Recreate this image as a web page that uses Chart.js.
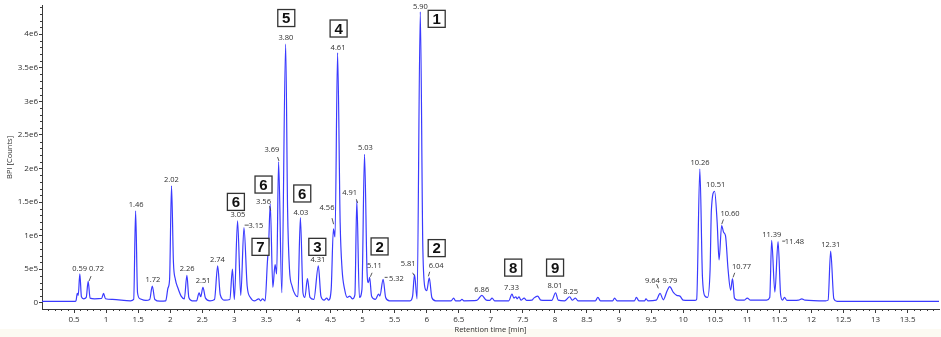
<!DOCTYPE html>
<html>
<head>
<meta charset="utf-8">
<script src="https://cdn.jsdelivr.net/npm/chart.js@4/dist/chart.umd.min.js"></script>
<style>
	html, body { margin: 0; padding: 0; background: #fff; }
	#wrap { width: 941px; height: 337px; position: relative; }
</style>
</head>
<body>
<div id="wrap"><canvas id="bpiChart"></canvas></div>
<script>
// BPI CHROMATOGRAM

// trace (retention time in min, BPI counts)
const retentionTime = [
	0.00, 0.50, 0.53, 0.55, 0.565, 0.59, 0.615, 0.65, 0.69, 0.72, 0.75, 0.82, 0.93, 0.96, 0.99, 1.10,
	1.38, 1.43, 1.46, 1.49, 1.53, 1.62, 1.68, 1.72, 1.76, 1.84, 1.93, 1.965, 1.99, 2.02, 2.05, 2.08,
	2.12, 2.17, 2.22, 2.26, 2.29, 2.34, 2.41, 2.45, 2.475, 2.51, 2.55, 2.62, 2.69, 2.74, 2.78, 2.85,
	2.93, 2.97, 3.00, 3.05, 3.10, 3.15, 3.20, 3.25, 3.32, 3.38, 3.41, 3.44, 3.48, 3.515, 3.535, 3.56,
	3.60, 3.635, 3.66, 3.69, 3.74, 3.80, 3.83, 3.86, 3.90, 3.95, 3.99, 4.03, 4.07, 4.10, 4.14, 4.18,
	4.24, 4.31, 4.35, 4.40, 4.44, 4.47, 4.51, 4.545, 4.57, 4.61, 4.65, 4.68, 4.72, 4.76, 4.80, 4.84,
	4.88, 4.91, 4.95, 4.99, 5.03, 5.07, 5.09, 5.11, 5.14, 5.20, 5.25, 5.27, 5.32, 5.36, 5.42, 5.74,
	5.78, 5.81, 5.85, 5.90, 5.94, 5.98, 6.00, 6.04, 6.08, 6.14, 6.38, 6.42, 6.45, 6.52, 6.55, 6.58,
	6.78, 6.86, 6.93, 6.98, 7.02, 7.06, 7.28, 7.33, 7.36, 7.39, 7.41, 7.44, 7.47, 7.52, 7.56, 7.64,
	7.67, 7.73, 7.78, 7.95, 8.01, 8.05, 8.15, 8.23, 8.27, 8.32, 8.36, 8.63, 8.67, 8.71, 8.90, 8.93,
	8.97, 9.24, 9.27, 9.31, 9.40, 9.42, 9.45, 9.58, 9.64, 9.69, 9.75, 9.79, 9.85, 9.90, 9.95, 10.00,
	10.18, 10.21, 10.26, 10.30, 10.34, 10.38, 10.42, 10.44, 10.49, 10.53, 10.56, 10.60, 10.63, 10.66, 10.70, 10.74,
	10.77, 10.80, 10.85, 10.95, 11.00, 11.05, 11.30, 11.35, 11.38, 11.43, 11.48, 11.52, 11.55, 11.58, 11.62, 11.80,
	11.85, 11.90, 12.22, 12.26, 12.30, 12.35, 12.40, 13.99
];
const bpiCounts = [
	2e4, 2e4, 3e4, 1.4e5, 1.1e5, 4.3e5, 9e4, 6e4, 8e4, 3.2e5, 7e4, 6e4, 6.5e4, 1.4e5, 6e4, 5e4,
	3e4, 5e4, 1.37e6, 1.5e5, 6e4, 3.5e4, 5e4, 2.5e5, 5e4, 2.5e4, 3e4, 2.2e5, 3.5e5, 1.74e6, 6e5, 3.5e5,
	2.2e5, 1e5, 6e4, 4.1e5, 8e4, 3e4, 3e4, 1.5e5, 9e4, 2.3e5, 7e4, 3e4, 5e4, 5.5e5, 1.2e5, 4e4,
	5e4, 5e5, 5e4, 1.22e6, 1.1e5, 1.12e6, 2.5e5, 8e4, 3e4, 6e4, 3e4, 6e4, 3e4, 6e5, 8.8e5, 1.47e6,
	2.3e5, 5.7e5, 4.3e5, 2.1e6, 1.5e5, 3.85e6, 1.4e6, 5e5, 2.5e5, 1.2e5, 9e4, 1.27e6, 1.5e5, 8e4, 3.6e5, 8e4,
	5e4, 5.5e5, 1e5, 4e4, 7e4, 4e4, 2e5, 1.1e6, 9.8e5, 3.72e6, 1.2e6, 5e5, 2e5, 8e4, 1e5, 6e4,
	1.2e5, 1.52e6, 8e4, 2e5, 2.21e6, 4.5e5, 3e5, 3.8e5, 1e5, 5e4, 1.3e5, 1e5, 3.5e5, 8e4, 3e4, 3e4,
	1e5, 4.2e5, 6e4, 4.33e6, 8e5, 2e5, 1.8e5, 3.7e5, 8e4, 3e4, 3e4, 7e4, 3e4, 3e4, 5e4, 3e4,
	3.5e4, 1.1e5, 4e4, 3.5e4, 7e4, 3e4, 3e4, 1.3e5, 7e4, 9e4, 6e4, 9e4, 4e4, 7e4, 3.5e4, 4e4,
	7e4, 1e5, 4e4, 3.5e4, 1.5e5, 4e4, 3e4, 9e4, 4e4, 7e4, 3e4, 3e4, 8e4, 3e4, 3e4, 7e4,
	3e4, 3e4, 8e4, 3e4, 3e4, 6e4, 3e4, 4e4, 1.4e5, 4.5e4, 1.8e5, 2.4e5, 1.5e5, 1.1e5, 1e5, 4e4,
	3.5e4, 5e4, 1.99e6, 4e5, 1e5, 8e4, 5e5, 1.38e6, 1.66e6, 1.2e6, 6.4e5, 1.15e6, 1.05e6, 1.0e6, 5e5, 1.9e5,
	3.6e5, 7e4, 4e4, 4e4, 7e4, 4e4, 4e4, 8e4, 9.3e5, 1.6e5, 9.1e5, 1.2e5, 4e4, 8e4, 3.5e4, 4e4,
	6e4, 4e4, 3e4, 4e4, 7.7e5, 6e4, 2e4, 2e4
];

// axis ticks
const xTickValues = [0.5, 1, 1.5, 2, 2.5, 3, 3.5, 4, 4.5, 5, 5.5, 6, 6.5, 7, 7.5, 8, 8.5, 9, 9.5, 10, 10.5, 11, 11.5, 12, 12.5, 13, 13.5];
const yTickValues = [0, 5e5, 1e6, 1.5e6, 2e6, 2.5e6, 3e6, 3.5e6, 4e6];
const yTickLabels = ["0", "5e5", "1e6", "1.5e6", "2e6", "2.5e6", "3e6", "3.5e6", "4e6"];

// peak labels: text, anchor time, anchor counts
const peakLabels = [
	["0.59", 0.588, 5.02e5], ["0.72", 0.85, 5.02e5], ["1.46", 1.468, 1.453e6], ["1.72", 1.728, 3.39e5],
	["2.02", 2.019, 1.824e6], ["2.26", 2.264, 5.02e5], ["2.51", 2.514, 3.24e5], ["2.74", 2.737, 6.36e5],
	["3.05", 3.055, 1.315e6], ["3.15", 3.335, 1.141e6], ["3.56", 3.455, 1.508e6], ["3.69", 3.586, 2.27e6],
	["3.80", 3.805, 3.938e6], ["4.03", 4.039, 1.344e6], ["4.31", 4.304, 6.36e5], ["4.56", 4.445, 1.419e6],
	["4.61", 4.617, 3.795e6], ["4.91", 4.798, 1.641e6], ["5.03", 5.043, 2.31e6], ["5.11", 5.183, 5.51e5],
	["5.32", 5.527, 3.54e5], ["5.81", 5.71, 5.76e5], ["5.90", 5.902, 4.41e6], ["6.04", 6.147, 5.51e5],
	["6.86", 6.859, 2.0e5], ["7.33", 7.323, 2.3e5], ["8.01", 7.998, 2.5e5], ["8.25", 8.244, 1.65e5],
	["9.64", 9.519, 3.28e5], ["9.79", 9.794, 3.28e5], ["10.26", 10.262, 2.087e6], ["10.51", 10.507, 1.75e6],
	["10.60", 10.731, 1.319e6], ["10.77", 10.909, 5.36e5], ["11.39", 11.382, 1.007e6], ["11.48", 11.735, 9.08e5],
	["12.31", 12.303, 8.59e5]
];

// leader strokes from label to peak: t1, v1, t2, v2
const leaderLines = [
	[0.734, 3.24e5, 0.765, 3.98e5], [3.16, 1.156e6, 3.225, 1.156e6], [3.549, 1.438e6, 3.567, 1.371e6],
	[3.674, 2.17e6, 3.696, 2.111e6], [4.523, 1.26e6, 4.548, 1.17e6], [4.902, 1.542e6, 4.923, 1.487e6],
	[5.148, 4.47e5, 5.121, 3.88e5], [5.344, 3.79e5, 5.391, 3.79e5], [5.781, 4.47e5, 5.803, 4.08e5],
	[6.047, 4.62e5, 6.026, 3.94e5], [9.586, 2.79e5, 9.613, 2.15e5], [10.628, 1.24e6, 10.601, 1.17e6],
	[10.804, 4.47e5, 10.778, 3.79e5], [11.545, 9.18e5, 11.59, 9.18e5]
];

// compound numbers in boxes: text, centre time, centre counts
const compoundBoxes = [
	["5", 3.81, 4.238e6], ["4", 4.626, 4.082e6], ["1", 6.156, 4.226e6],
	["6", 3.024, 1.502e6], ["6", 3.455, 1.76e6], ["6", 4.059, 1.627e6],
	["7", 3.408, 8.33e5], ["3", 4.294, 8.33e5], ["2", 5.265, 8.39e5],
	["2", 6.156, 8.14e5], ["8", 7.349, 5.24e5], ["9", 8.002, 5.24e5]
];

const axisColor = "#3a3a3a";
const textColor = "#2e2e2e";
const fontFamily = "'Open Sans', 'Noto Sans', sans-serif";

const chartData = {
	datasets: [
		{
			label: "BPI",
			data: retentionTime.map((t, i) => ({ x: t, y: bpiCounts[i] })),
			borderColor: "rgb(58, 58, 255)",
			borderWidth: 1.2,
			pointRadius: 0,
			cubicInterpolationMode: "monotone",
			fill: false,
		},
	],
};

// background + cream strip at the bottom
const backgroundPlugin = {
	id: "backgroundPlugin",
	beforeDraw(chart) {
		const ctx = chart.ctx;
		ctx.save();
		ctx.fillStyle = "#fff";
		ctx.fillRect(0, 0, chart.width, chart.height);
		ctx.fillStyle = "#fcfaf2";
		ctx.fillRect(0, chart.height - 8, chart.width, 8);
		ctx.restore();
	},
};

// small ticks between the labelled ones
const minorTicksPlugin = {
	id: "minorTicksPlugin",
	afterDraw(chart) {
		const { ctx, chartArea } = chart;
		const x = chart.scales.x;
		const y = chart.scales.y;
		ctx.save();
		ctx.strokeStyle = axisColor;
		ctx.lineWidth = 1;
		ctx.beginPath();
		for (let i = 1; i * 0.1 < x.max; i++) {
			if (i % 5 === 0) continue;
			const px = Math.round(x.getPixelForValue(i * 0.1)) + 0.5;
			ctx.moveTo(px, chartArea.bottom);
			ctx.lineTo(px, chartArea.bottom + 2);
		}
		for (let i = 1; i * 1e5 < y.max; i++) {
			if (i % 5 === 0) continue;
			const py = Math.round(y.getPixelForValue(i * 1e5)) + 0.5;
			ctx.moveTo(chartArea.left, py);
			ctx.lineTo(chartArea.left - 2, py);
		}
		ctx.stroke();
		ctx.restore();
	},
};

// peak labels, leader strokes and boxed compound numbers
const annotationPlugin = {
	id: "annotationPlugin",
	afterDraw(chart) {
		const ctx = chart.ctx;
		const x = chart.scales.x;
		const y = chart.scales.y;
		ctx.save();
		ctx.fillStyle = textColor;
		ctx.font = "7.5px " + fontFamily;
		ctx.textAlign = "center";
		ctx.textBaseline = "middle";
		peakLabels.forEach(([text, t, v]) => {
			ctx.fillText(text, x.getPixelForValue(t), y.getPixelForValue(v));
		});

		ctx.strokeStyle = "#444";
		ctx.lineWidth = 0.9;
		ctx.beginPath();
		leaderLines.forEach(([t1, v1, t2, v2]) => {
			ctx.moveTo(x.getPixelForValue(t1), y.getPixelForValue(v1));
			ctx.lineTo(x.getPixelForValue(t2), y.getPixelForValue(v2));
		});
		ctx.stroke();

		const half = 8.5;
		ctx.font = "bold 15px 'Liberation Sans', Arial, sans-serif";
		compoundBoxes.forEach(([text, t, v]) => {
			const cx = x.getPixelForValue(t);
			const cy = y.getPixelForValue(v);
			ctx.fillStyle = "#fff";
			ctx.fillRect(cx - half, cy - half, half * 2, half * 2);
			ctx.strokeStyle = "#333";
			ctx.lineWidth = 1.3;
			ctx.strokeRect(cx - half, cy - half, half * 2, half * 2);
			ctx.fillStyle = "#111";
			ctx.fillText(text, cx, cy + 1);
		});
		ctx.restore();
	},
};

const bpiConfig = {
	type: "line",
	data: chartData,
	options: {
		responsive: false,
		animation: false,
		layout: { padding: { top: 5, right: 2, left: 0, bottom: 0 } },
		plugins: {
			legend: { display: false },
			tooltip: { enabled: false },
		},
		scales: {
			x: {
				type: "linear",
				min: 0,
				max: 13.99,
				afterBuildTicks: (scale) => {
					scale.ticks = xTickValues.map((v) => ({ value: v }));
				},
				afterFit: (scale) => {
					scale.height = 28;
				},
				ticks: {
					autoSkip: false,
					maxRotation: 0,
					padding: 2,
					color: textColor,
					font: { family: fontFamily, size: 8 },
					callback: (value) => String(value),
				},
				grid: { drawOnChartArea: false, tickLength: 4, color: axisColor },
				border: { color: axisColor, width: 1 },
				title: {
					display: true,
					text: "Retention time [min]",
					color: textColor,
					font: { family: fontFamily, size: 7.5 },
					padding: { top: 0, bottom: 3 },
				},
			},
			y: {
				min: -92000,
				max: 4.42e6,
				afterBuildTicks: (scale) => {
					scale.ticks = yTickValues.map((v) => ({ value: v }));
				},
				afterFit: (scale) => {
					scale.width = 42;
				},
				ticks: {
					padding: 1,
					color: textColor,
					font: { family: fontFamily, size: 8 },
					callback: (value, index) => yTickLabels[index],
				},
				grid: { drawOnChartArea: false, tickLength: 3, color: axisColor },
				border: { color: axisColor, width: 1 },
				title: {
					display: true,
					text: "BPI [Counts]",
					color: textColor,
					font: { family: fontFamily, size: 7.5 },
					padding: { top: 5, bottom: 0 },
				},
			},
		},
	},
	plugins: [backgroundPlugin, minorTicksPlugin, annotationPlugin],
};

const canvas = document.getElementById("bpiChart");
canvas.width = 941;
canvas.height = 337;
const bpiChart = new Chart(canvas, bpiConfig);
</script>
</body>
</html>
